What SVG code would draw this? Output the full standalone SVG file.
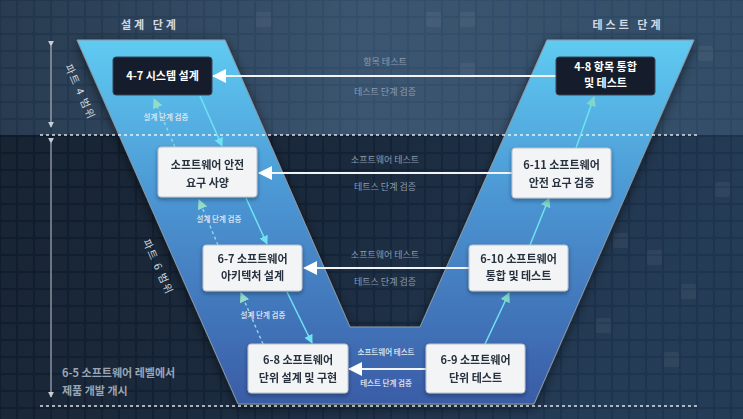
<svg xmlns="http://www.w3.org/2000/svg" width="743" height="419" viewBox="0 0 743 419">
<defs>
<linearGradient id="bgTop" x1="0" y1="0" x2="1" y2="0">
<stop offset="0" stop-color="#20344a"/>
<stop offset="0.5" stop-color="#35506c"/>
<stop offset="1" stop-color="#2c4762"/>
</linearGradient>
<linearGradient id="bgBot" x1="0" y1="0" x2="1" y2="0.4">
<stop offset="0" stop-color="#0f1a28"/>
<stop offset="0.55" stop-color="#132236"/>
<stop offset="1" stop-color="#1d3550"/>
</linearGradient>
<linearGradient id="vfill" x1="0" y1="0" x2="0" y2="1">
<stop offset="0" stop-color="#5fcbf2"/>
<stop offset="0.45" stop-color="#4b94d2"/>
<stop offset="1" stop-color="#3a5ca6"/>
</linearGradient>
<pattern id="tiles" width="17" height="17" patternUnits="userSpaceOnUse">
<rect x="1" y="1" width="15" height="15" rx="2" fill="#ffffff" fill-opacity="0.035"/>
</pattern>
<filter id="vshadow" x="-20%" y="-20%" width="140%" height="140%">
<feDropShadow dx="0" dy="3" stdDeviation="6" flood-color="#000814" flood-opacity="0.55"/>
</filter>
<filter id="nshadow" x="-20%" y="-20%" width="140%" height="150%">
<feDropShadow dx="0" dy="2" stdDeviation="2" flood-color="#0a1424" flood-opacity="0.4"/>
</filter>
<marker id="ahWhite" viewBox="0 0 14 14" refX="13" refY="7" markerWidth="14" markerHeight="14" markerUnits="userSpaceOnUse" orient="auto">
<path d="M0,0 L14,7 L0,14 Z" fill="#ffffff"/>
</marker>
<marker id="ahCyan" viewBox="0 0 10 10" refX="9" refY="5" markerWidth="9" markerHeight="9" markerUnits="userSpaceOnUse" orient="auto">
<path d="M0,0 L10,5 L0,10 Z" fill="#6fe3f2"/>
</marker>
<marker id="ahTeal" viewBox="0 0 10 10" refX="9" refY="5" markerWidth="10" markerHeight="10" markerUnits="userSpaceOnUse" orient="auto">
<path d="M0,0 L10,5 L0,10 Z" fill="#7fd6c9"/>
</marker>
<marker id="ahDash" viewBox="0 0 10 10" refX="9" refY="5" markerWidth="10" markerHeight="10" markerUnits="userSpaceOnUse" orient="auto">
<path d="M0,0 L10,5 L0,10 Z" fill="#93dcc6"/>
</marker>
<marker id="ahSmall" viewBox="0 0 8 8" refX="7" refY="4" markerWidth="6" markerHeight="6" markerUnits="userSpaceOnUse" orient="auto">
<path d="M0,0 L8,4 L0,8 Z" fill="#c8cfd8"/>
</marker>
<style>
text { font-family: "Noto Sans CJK KR", "Noto Sans", sans-serif; }
.dark rect { fill: #151c2b; stroke: #3a4558; stroke-width: 1; }
.dark text { fill: #ffffff; font-size: 11px; font-weight: 700; text-anchor: middle; }
.light rect { fill: #f3f4f6; stroke: #b8c0cc; stroke-width: 1; }
.light text { fill: #27303d; font-size: 11px; font-weight: 700; text-anchor: middle; }
.hline { stroke: #f2f4f7; stroke-width: 2; fill: none; marker-end: url(#ahWhite); }
.down { stroke: #6fe3f2; stroke-width: 1.5; fill: none; marker-end: url(#ahCyan); }
.up { stroke: #6fe3f2; stroke-width: 1.5; fill: none; marker-end: url(#ahTeal); }
.verif { stroke: #8fd6e8; stroke-width: 1.5; stroke-dasharray: 3 3; fill: none; marker-end: url(#ahDash); }
.lbl { fill: #8e9bad; font-size: 9px; text-anchor: middle; }
.lbls { fill: #e6ecf3; font-size: 7.5px; font-weight: 500; text-anchor: middle; }
.phase { fill: #d3dae3; font-size: 11px; font-weight: 700; letter-spacing: 3px; text-anchor: middle; }
.range { fill: #d0d6de; font-size: 10.5px; letter-spacing: 1.5px; text-anchor: middle; }
.sep { stroke: #ffffff; stroke-opacity: 0.85; stroke-width: 1.5; stroke-dasharray: 3 3; }
.rarrow { stroke: #c8cfd8; stroke-width: 1; marker-start: url(#ahSmall); marker-end: url(#ahSmall); }
</style>
</defs>

<!-- background -->
<rect x="0" y="0" width="743" height="419" fill="url(#bgBot)"/>
<rect x="0" y="0" width="743" height="135" fill="url(#bgTop)"/>
<rect x="0" y="0" width="743" height="419" fill="url(#tiles)"/>
<g fill="#ffffff" fill-opacity="0.05">
<rect x="579" y="216" width="15" height="15" rx="2"/>
<rect x="613" y="233" width="15" height="15" rx="2"/>
<rect x="647" y="250" width="15" height="15" rx="2"/>
<rect x="681" y="284" width="15" height="15" rx="2"/>
<rect x="596" y="318" width="15" height="15" rx="2"/>
<rect x="664" y="352" width="15" height="15" rx="2"/>
<rect x="715" y="182" width="15" height="15" rx="2"/>
<rect x="698" y="46" width="15" height="15" rx="2"/>
<rect x="426" y="12" width="15" height="15" rx="2"/>
<rect x="460" y="12" width="15" height="15" rx="2"/>
<rect x="256" y="12" width="15" height="15" rx="2"/>
<rect x="460" y="63" width="15" height="15" rx="2"/>
</g>

<!-- V shape -->
<polygon points="77,40 225,40 350,327 420,327 547,40 694,40 534,404 238,404" fill="url(#vfill)" stroke="#8e9aa6" stroke-width="1" filter="url(#vshadow)"/>

<!-- separators and ranges -->
<line class="sep" x1="40" y1="135" x2="700" y2="135"/>
<line class="sep" x1="40" y1="406" x2="700" y2="406"/>
<line class="rarrow" x1="51" y1="46" x2="51" y2="127"/>
<line class="rarrow" x1="51" y1="143" x2="51" y2="397"/>
<text class="range" transform="translate(80,92) rotate(66)" dy="0.35em">파트 4 범위</text>
<text class="range" transform="translate(158,267) rotate(66)" dy="0.35em">파트 6 범위</text>

<text class="phase" x="150" y="29">설계 단계</text>
<text class="phase" x="628" y="29">테스트 단계</text>

<text x="62" y="377" fill="#9aa5b5" font-size="11" font-weight="700">6-5 소프트웨어 레벨에서</text>
<text x="62" y="395" fill="#9aa5b5" font-size="11" font-weight="700">제품 개발 개시</text>

<!-- connectors -->
<g id="connectors">
<line class="hline" x1="556" y1="76" x2="213" y2="76"/>
<line class="hline" x1="512" y1="173" x2="259" y2="173"/>
<line class="hline" x1="469" y1="268" x2="304" y2="268"/>
<line class="hline" x1="426" y1="369" x2="349" y2="369"/>
<text class="lbl" x="385" y="65">항목 테스트</text>
<text class="lbl" x="385" y="95">테스트 단계 검증</text>
<text class="lbl" x="385" y="163">소프트웨어 테스트</text>
<text class="lbl" x="385" y="190">테트스 단계 검증</text>
<text class="lbl" x="385" y="258">소프트웨어 테스트</text>
<text class="lbl" x="385" y="285">테트스 단계 검증</text>
<text class="lbls" x="386" y="355">소프트웨어 테스트</text>
<text class="lbls" x="386" y="386">테스트 단계 검증</text>

<line class="down" x1="200" y1="96" x2="222" y2="146"/>
<line class="down" x1="246" y1="198" x2="267" y2="244"/>
<line class="down" x1="287" y1="292" x2="312" y2="343"/>

<line class="verif" x1="175" y1="147" x2="154" y2="99"/>
<line class="verif" x1="218" y1="245" x2="199" y2="200"/>
<line class="verif" x1="263" y1="344" x2="241" y2="293"/>
<text class="lbls" x="166" y="120">설계 단계 검증</text>
<text class="lbls" x="219" y="222">설계 단계 검증</text>
<text class="lbls" x="263" y="318">설계 단계 검증</text>

<line class="up" x1="485" y1="344" x2="509" y2="293"/>
<line class="up" x1="530" y1="245" x2="549" y2="198"/>
<line class="up" x1="576" y1="148" x2="594" y2="97"/>
</g>

<!-- nodes -->
<g id="n47" class="dark"><rect x="113" y="57" width="99" height="38" rx="3"/><text x="162.5" y="80">4-7 시스템 설계</text></g>
<g id="n48" class="dark"><rect x="556" y="57" width="99" height="38" rx="3"/><text x="605.5" y="71">4-8 항목 통합</text><text x="605.5" y="87">및 테스트</text></g>
<g id="nsr" class="light" filter="url(#nshadow)"><rect x="158" y="147" width="99" height="50" rx="3"/><text x="207.5" y="169">소프트웨어 안전</text><text x="207.5" y="187">요구 사양</text></g>
<g id="n67" class="light" filter="url(#nshadow)"><rect x="203" y="245" width="99" height="46" rx="3"/><text x="252.5" y="263">6-7 소프트웨어</text><text x="252.5" y="280">아키텍처 설계</text></g>
<g id="n68" class="light" filter="url(#nshadow)"><rect x="248" y="344" width="100" height="49" rx="3"/><text x="298" y="364">6-8 소프트웨어</text><text x="298" y="382">단위 설계 및 구현</text></g>
<g id="n611" class="light" filter="url(#nshadow)"><rect x="512" y="148" width="99" height="50" rx="3"/><text x="561.5" y="169">6-11 소프트웨어</text><text x="561.5" y="187">안전 요구 검증</text></g>
<g id="n610" class="light" filter="url(#nshadow)"><rect x="469" y="245" width="99" height="46" rx="3"/><text x="518.5" y="263">6-10 소프트웨어</text><text x="518.5" y="280">통합 및 테스트</text></g>
<g id="n69" class="light" filter="url(#nshadow)"><rect x="426" y="344" width="99" height="49" rx="3"/><text x="475.5" y="364">6-9 소프트웨어</text><text x="475.5" y="382">단위 테스트</text></g>
</svg>
